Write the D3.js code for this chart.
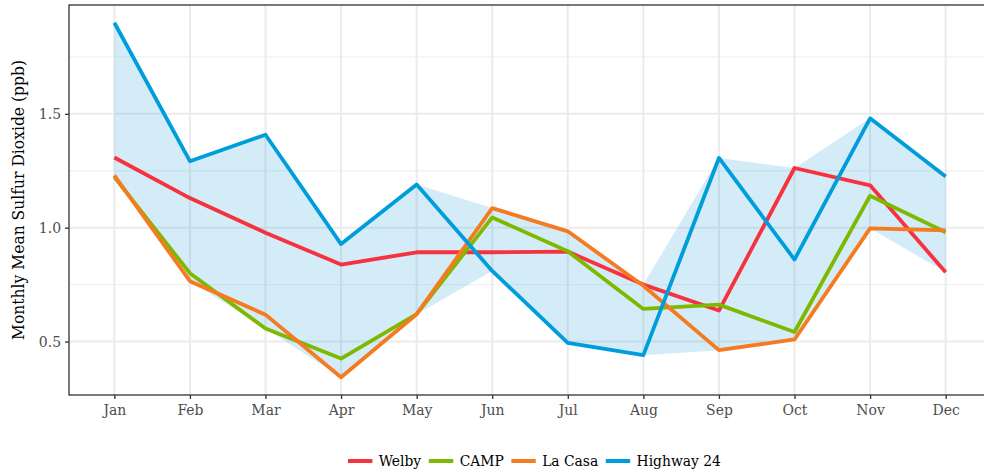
<!DOCTYPE html>
<html><head><meta charset="utf-8">
<script src="https://cdn.jsdelivr.net/npm/d3@7"></script>
<style>
html,body{margin:0;padding:0;background:#fff;}
svg{display:block;font-family:"DejaVu Serif","Liberation Serif",serif;}
.cond{font-family:"DejaVu Serif Condensed","DejaVu Serif",serif;font-stretch:condensed;}
</style></head>
<body>
<svg id="c" width="984" height="474"></svg>
<script>
const months = ["Jan","Feb","Mar","Apr","May","Jun","Jul","Aug","Sep","Oct","Nov","Dec"];
const seriesNames = ["Welby","CAMP","La Casa","Highway 24"];
const welby   = [1.308,1.130,0.978,0.838,0.892,0.892,0.895,0.750,0.636,1.262,1.186,0.804];
const camp    = [1.222,0.800,0.557,0.425,0.620,1.045,0.896,0.643,0.662,0.542,1.140,0.980];
const laCasa  = [1.230,0.765,0.618,0.343,0.620,1.086,0.984,0.745,0.462,0.509,0.997,0.988];
const hwy24   = [1.900,1.292,1.408,0.928,1.190,0.810,0.494,0.440,1.306,0.860,1.480,1.225];
const yTicks = [0.5,1.0,1.5];
const yMinor = [0.75,1.25,1.75];
const colors = ["#F7323F","#7FB800","#F47B20","#009DDC"];

const seriesVals = [welby,camp,laCasa,hwy24];
const series = seriesNames.map((n,i)=>({name:n,color:colors[i],values:months.map((m,j)=>({m,v:seriesVals[i][j]}))}));
const band = months.map((m,j)=>({m,lo:d3.min(seriesVals,s=>s[j]),hi:d3.max(seriesVals,s=>s[j])}));

const svg = d3.select("#c");
const P = {l:69, t:5, r:991, b:395};

const allV = seriesVals.flat();
const lo = d3.min(allV), hi = d3.max(allV), pad = (hi-lo)*0.05;
const y = d3.scaleLinear().domain([lo-pad, hi+pad]).range([P.b, P.t]);
const x = d3.scalePoint().domain(months).range([P.l, P.r]).padding(0.6);

// grid
const g = svg.append("g");
g.selectAll(".minor").data(yMinor).join("line")
  .attr("x1",P.l).attr("x2",P.r).attr("y1",d=>y(d)).attr("y2",d=>y(d))
  .attr("stroke","#F2F2F2").attr("stroke-width",1.3);
g.selectAll(".majy").data(yTicks).join("line")
  .attr("x1",P.l).attr("x2",P.r).attr("y1",d=>y(d)).attr("y2",d=>y(d))
  .attr("stroke","#EBEBEB").attr("stroke-width",2);
g.selectAll(".majx").data(months).join("line")
  .attr("x1",d=>x(d)).attr("x2",d=>x(d)).attr("y1",P.t).attr("y2",P.b)
  .attr("stroke","#EBEBEB").attr("stroke-width",2);

// ribbon
svg.append("path").datum(band)
  .attr("d", d3.area().x(d=>x(d.m)).y0(d=>y(d.lo)).y1(d=>y(d.hi)))
  .attr("fill","#2A9FD6").attr("fill-opacity",0.2);

// lines
const line = d3.line().x(d=>x(d.m)).y(d=>y(d.v));
svg.selectAll(".ser").data(series).join("path")
  .attr("d",d=>line(d.values)).attr("fill","none")
  .attr("stroke",d=>d.color).attr("stroke-width",3.8)
  .attr("stroke-linejoin","round");

// border
svg.append("rect").attr("x",P.l).attr("y",P.t).attr("width",P.r-P.l).attr("height",P.b-P.t)
  .attr("fill","none").attr("stroke","#333333").attr("stroke-width",1.3);

// axes
const xa = svg.append("g").attr("transform",`translate(0,${P.b})`)
  .call(d3.axisBottom(x).tickSize(4).tickPadding(5));
const ya = svg.append("g").attr("transform",`translate(${P.l},0)`)
  .call(d3.axisLeft(y).tickValues(yTicks).tickFormat(d3.format(".1f")).tickSize(4).tickPadding(4));
[xa,ya].forEach(a=>{
  a.select(".domain").remove();
  a.selectAll(".tick line").attr("stroke","#333333").attr("stroke-width",1.3);
  a.selectAll(".tick text").attr("fill","#4D4D4D").attr("font-size",15.5)
   .attr("font-family",null).attr("class","cond");
});

// y title
svg.append("text").attr("transform",`translate(24,${(P.t+P.b)/2}) rotate(-90)`)
  .attr("text-anchor","middle").attr("font-size",17.3).attr("fill","#000").attr("class","cond")
  .text("Monthly Mean Sulfur Dioxide (ppb)");

// legend
const lg = svg.append("g");
const items = lg.selectAll("g").data(series).join("g");
items.append("line").attr("x1",0).attr("x2",24.4).attr("y1",0).attr("y2",0)
  .attr("stroke",d=>d.color).attr("stroke-width",4);
items.append("text").attr("x",30.8).attr("y",0).attr("dy","0.35em").attr("class","cond")
  .attr("font-size",15.4).attr("fill","#000").text(d=>d.name);
const widths=[];
items.each(function(){ widths.push(this.getBBox().width); });
const gap = 7.6;
const total = d3.sum(widths) + gap*(widths.length-1);
let start = 534.5 - total/2;
items.attr("transform",(d,i)=>{ const t=`translate(${start},461)`; start += widths[i]+gap; return t; });
</script>
</body></html>
